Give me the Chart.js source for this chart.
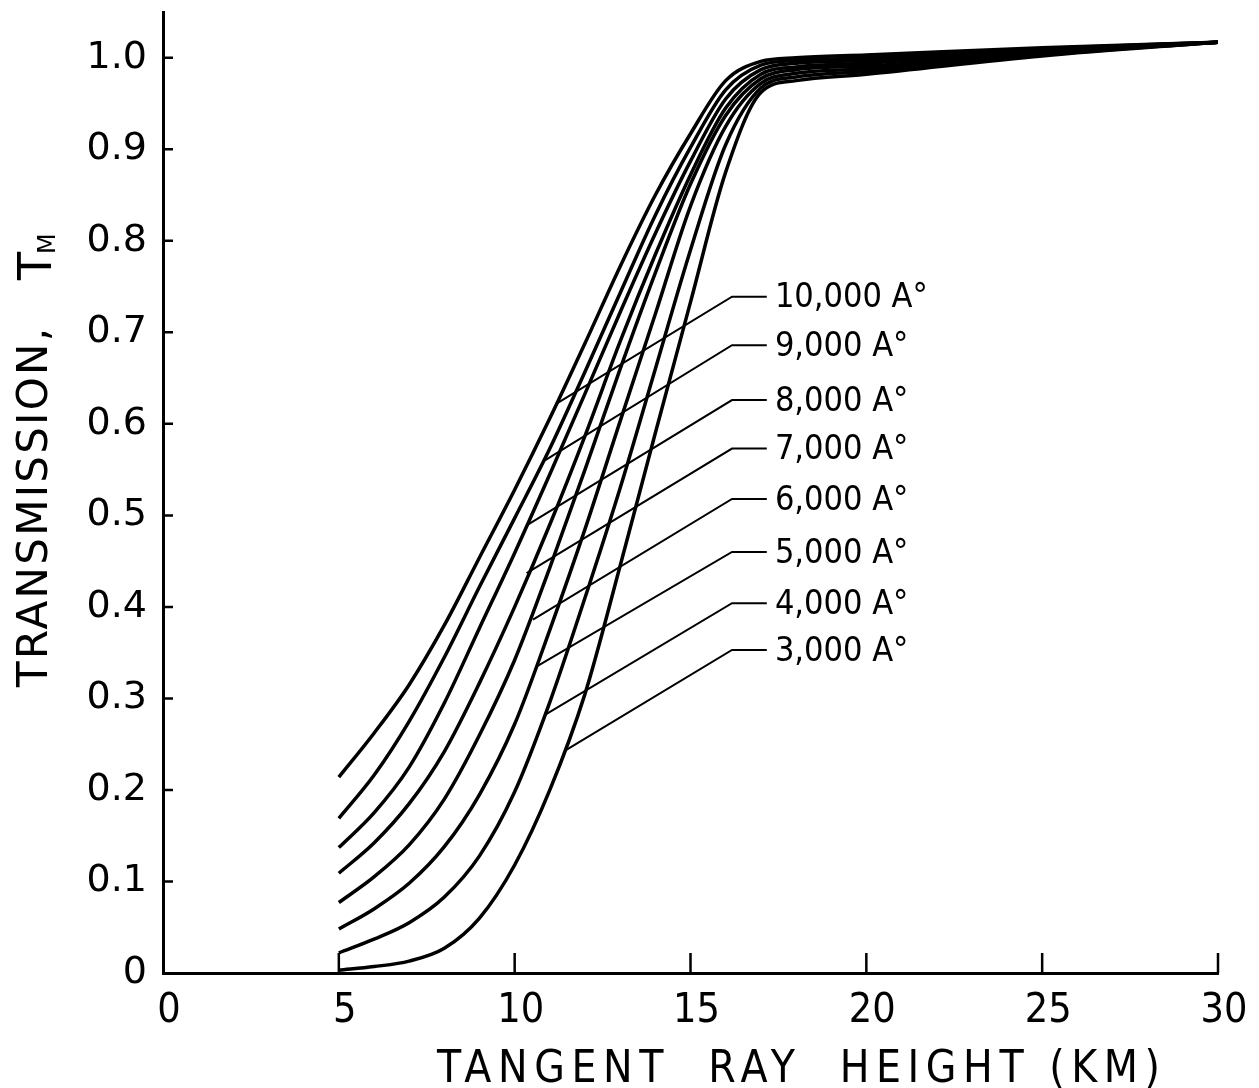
<!DOCTYPE html>
<html>
<head>
<meta charset="utf-8">
<script src="https://cdn.jsdelivr.net/npm/chart.js@4.4.0/dist/chart.umd.min.js"></script>
<style>
  html, body { margin: 0; padding: 0; background: #fff; }
  #wrap { width: 1259px; height: 1088px; }
</style>
</head>
<body>
<div id="wrap"><canvas id="my-chart" width="1259" height="1088"></canvas></div>
<script>

// tangent ray height (km) where each curve was read
let heightKm = [5, 6, 7, 8, 9, 10, 11, 12, 13, 14, 15, 16, 17, 18, 20, 25, 30];

// transmission T_M for each wavelength
let t10000 = [0.214, 0.262, 0.315, 0.380, 0.454, 0.528, 0.606, 0.688, 0.772, 0.850, 0.917, 0.975, 0.996, 1.000, 1.003, 1.011, 1.017];
let t9000  = [0.169, 0.216, 0.275, 0.345, 0.422, 0.497, 0.573, 0.657, 0.743, 0.828, 0.902, 0.965, 0.992, 0.997, 1.000, 1.010, 1.017];
let t8000  = [0.137, 0.175, 0.225, 0.295, 0.377, 0.459, 0.545, 0.633, 0.722, 0.808, 0.887, 0.955, 0.987, 0.994, 0.997, 1.009, 1.017];
let t7000  = [0.109, 0.142, 0.185, 0.242, 0.317, 0.400, 0.490, 0.587, 0.690, 0.785, 0.872, 0.945, 0.982, 0.990, 0.994, 1.007, 1.017];
let t6000  = [0.077, 0.105, 0.140, 0.190, 0.260, 0.342, 0.443, 0.550, 0.660, 0.765, 0.862, 0.937, 0.977, 0.987, 0.991, 1.006, 1.017];
let t5000  = [0.048, 0.070, 0.098, 0.138, 0.195, 0.272, 0.375, 0.485, 0.603, 0.720, 0.838, 0.925, 0.972, 0.983, 0.988, 1.005, 1.017];
let t4000  = [0.022, 0.037, 0.055, 0.083, 0.128, 0.198, 0.296, 0.410, 0.530, 0.660, 0.790, 0.905, 0.967, 0.979, 0.985, 1.003, 1.017];
let t3000  = [0.003, 0.007, 0.013, 0.027, 0.060, 0.118, 0.200, 0.305, 0.445, 0.590, 0.733, 0.875, 0.962, 0.975, 0.982, 1.002, 1.017];

let seriesNames = ['10,000 A°', '9,000 A°', '8,000 A°', '7,000 A°', '6,000 A°', '5,000 A°', '4,000 A°', '3,000 A°'];
let allSeries = [t10000, t9000, t8000, t7000, t6000, t5000, t4000, t3000];

// leader lines: point on curve (km, T) and label row (T)
let leaderX = [11.19, 10.86, 10.34, 10.34, 10.52, 10.63, 10.86, 11.48];
let leaderY = [0.622, 0.560, 0.489, 0.437, 0.386, 0.335, 0.282, 0.244];
let labelY  = [0.739, 0.686, 0.626, 0.573, 0.518, 0.460, 0.404, 0.353];
let elbowX = 16.18;
let leaderEndX = 17.17;
let labelX = 17.40;

let xTicks = [0, 5, 10, 15, 20, 25, 30];
let yTicks = [0, 0.1, 0.2, 0.3, 0.4, 0.5, 0.6, 0.7, 0.8, 0.9, 1.0];

let datasets = [];
for (let i = 0; i < allSeries.length; i++) {
    let pts = [];
    for (let j = 0; j < heightKm.length; j++) {
        pts.push({ x: heightKm[j], y: allSeries[i][j] });
    }
    datasets.push({
        label: seriesNames[i],
        data: pts,
        borderColor: '#000',
        borderWidth: 3.5,
        pointRadius: 0,
        fill: false,
        cubicInterpolationMode: 'monotone'
    });
}

function fitText(ctx, text, x, y, width) {
    ctx.letterSpacing = '0px';
    let w0 = ctx.measureText(text).width;
    let ls = (width - w0) / (text.length - 1);
    ctx.letterSpacing = ls + 'px';
    ctx.fillText(text, x, y);
    ctx.letterSpacing = '0px';
}

// inward ticks, leader lines, labels and axis titles
const inkPlugin = {
    id: 'ink',
    afterDraw(chart) {
        let ctx = chart.ctx;
        let xs = chart.scales.x;
        let ys = chart.scales.y;
        let area = chart.chartArea;
        ctx.save();
        ctx.strokeStyle = '#000';
        ctx.fillStyle = '#000';
        ctx.lineCap = 'butt';

        ctx.lineWidth = 2.5;
        ctx.beginPath();
        yTicks.forEach(v => {
            if (v === 0) return;
            let py = ys.getPixelForValue(v);
            ctx.moveTo(area.left, py);
            ctx.lineTo(area.left + 10, py);
        });
        xTicks.forEach(v => {
            if (v === 0) return;
            let px = xs.getPixelForValue(v);
            ctx.moveTo(px, area.bottom);
            ctx.lineTo(px, area.bottom - 20);
        });
        ctx.stroke();

        // leaders
        ctx.lineWidth = 2;
        for (let i = 0; i < seriesNames.length; i++) {
            let ly = ys.getPixelForValue(labelY[i]);
            ctx.beginPath();
            ctx.moveTo(xs.getPixelForValue(leaderX[i]), ys.getPixelForValue(leaderY[i]));
            ctx.lineTo(xs.getPixelForValue(elbowX), ly);
            ctx.lineTo(xs.getPixelForValue(leaderEndX), ly);
            ctx.stroke();
            ctx.font = '34px "DejaVu Sans Condensed", "DejaVu Sans"';
            ctx.textAlign = 'left';
            ctx.textBaseline = 'middle';
            ctx.fillText(seriesNames[i], xs.getPixelForValue(labelX), ly + 2);
        }

        // x title
        ctx.textBaseline = 'alphabetic';
        ctx.font = '44px "DejaVu Sans Condensed", "DejaVu Sans"';
        fitText(ctx, 'TANGENT  RAY  HEIGHT (KM)', 437, 1082, 723);

        // y title
        ctx.save();
        ctx.translate(47, 687);
        ctx.rotate(-Math.PI / 2);
        ctx.font = '42px "DejaVu Sans"';
        fitText(ctx, 'TRANSMISSION,', 0, 0, 359);
        ctx.font = '46px "DejaVu Sans"';
        ctx.fillText('T', 407, 4);
        ctx.font = '24px "DejaVu Sans"';
        ctx.fillText('M', 433, 8);
        ctx.restore();

        ctx.restore();
    }
};

let chartEl = document.getElementById('my-chart');
let ctx = chartEl.getContext('2d');

let transmissionChart = new Chart(ctx, {
    type: 'line',
    data: { datasets: datasets },
    options: {
        responsive: false,
        animation: false,
        devicePixelRatio: 1,
        layout: { padding: { left: 0, right: 41, top: 12, bottom: 0 } },
        plugins: {
            legend: { display: false },
            tooltip: { enabled: false }
        },
        scales: {
            x: {
                type: 'linear',
                min: 0,
                max: 30,
                afterBuildTicks: scale => { scale.ticks = xTicks.map(v => ({ value: v })); },
                afterFit: scale => {
                    scale.height = 115;
                    scale.paddingLeft = 0;
                    scale.paddingRight = 0;
                },
                grid: { display: false, drawTicks: false },
                border: { display: true, color: '#000', width: 3 },
                ticks: {
                    color: '#000',
                    padding: 14,
                    labelOffset: 6,
                    maxRotation: 0,
                    font: { family: '"Liberation Sans Narrow", "DejaVu Sans Condensed"', size: 41 }
                }
            },
            y: {
                type: 'linear',
                min: 0,
                max: 1.05,
                afterBuildTicks: scale => { scale.ticks = yTicks.map(v => ({ value: v })); },
                afterFit: scale => {
                    scale.width = 163;
                    scale.paddingTop = 0;
                    scale.paddingBottom = 0;
                },
                grid: { display: false, drawTicks: false },
                border: { display: true, color: '#000', width: 3 },
                ticks: {
                    color: '#000',
                    padding: 16,
                    font: { family: '"DejaVu Sans"', size: 38 },
                    callback: v => v === 0 ? '0' : v.toFixed(1)
                }
            }
        }
    },
    plugins: [inkPlugin]
});

</script>
</body>
</html>
